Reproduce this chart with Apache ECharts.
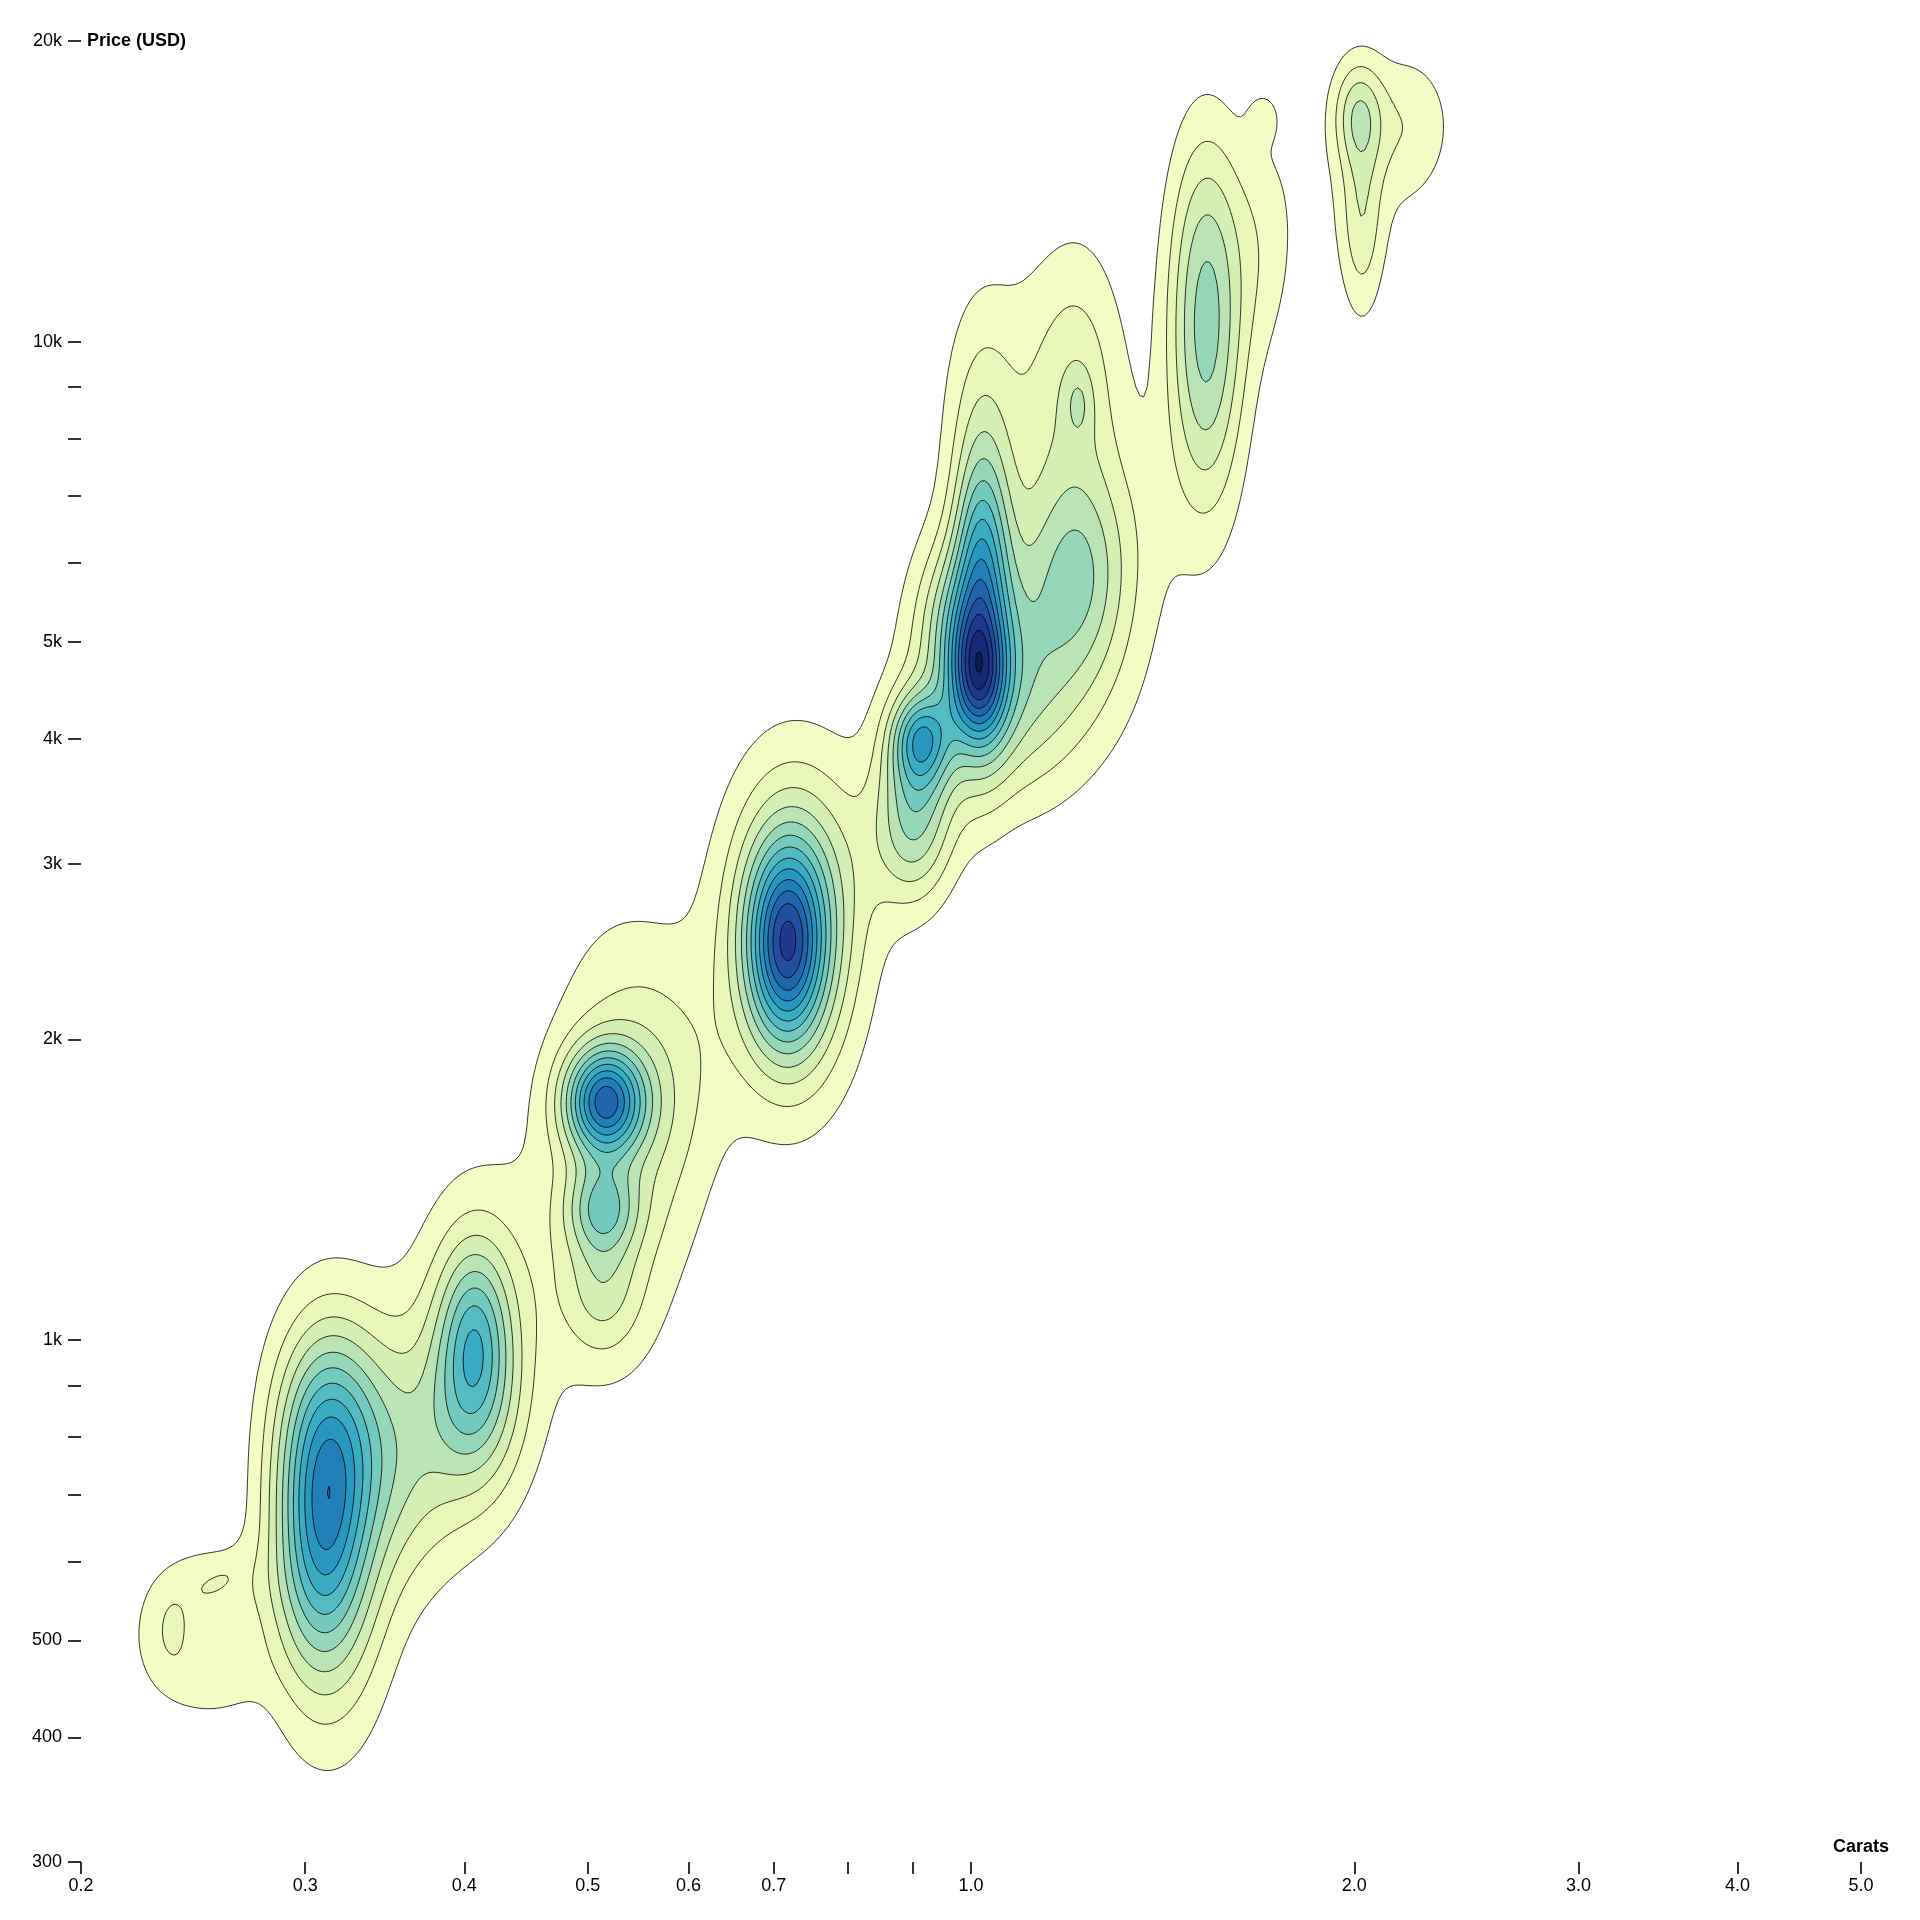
<!DOCTYPE html>
<html>
<head>
<meta charset="utf-8">
<script src="https://cdn.jsdelivr.net/npm/echarts@6/dist/echarts.min.js"></script>
<style>
    html, body { margin: 0; padding: 0; background: #fff; }
    #chart { width: 1920px; height: 1920px; }
</style>
</head>
<body>
<div id="chart"></div>
<script>
// axis ticks and labels
var xTicks = [0.2, 0.3, 0.4, 0.5, 0.6, 0.7, 0.8, 0.9, 1, 2, 3, 4, 5];
var xLabels = [0.2, 0.3, 0.4, 0.5, 0.6, 0.7, 1, 2, 3, 4, 5];
var yTicks = [300, 400, 500, 600, 700, 800, 900, 1000, 2000, 3000, 4000, 5000, 6000, 7000, 8000, 9000, 10000, 20000];
var yLabels = [300, 400, 500, 1000, 2000, 3000, 4000, 5000, 10000, 20000];

// density bumps (carat, price, spread in decades, tilt, height in contour steps)
var bumpCarat  = [0.2335, 0.2535, 0.2524, 0.2362, 0.2558, 0.3095, 0.3095, 0.3136, 0.3150, 0.3519, 0.4074, 0.4065, 0.4111, 0.5152, 0.5129, 0.5302, 0.5731, 0.7167, 0.7231, 0.7815, 1.0128, 1.0196, 1.0309, 1.0196, 1.0196, 1.1140, 1.2171, 1.2171, 1.2144, 1.1390, 0.9127, 0.9027, 0.9127, 1.3449, 1.5296, 1.5296, 1.6976, 1.6976, 2.0134, 2.0268, 2.2145, 2.0494, 0.9754, 0.5129, 0.2638, 1.5296];
var bumpPrice  = [503.5, 571.7, 449.7, 513.6, 571.7, 696.8, 571.7, 849.5, 640.4, 758.9, 1021, 849.5, 992.5, 1733, 1355, 1583, 1824, 2489, 2560, 3034, 4600, 5654, 4384, 6331, 8643, 8643, 5899, 9146, 8667, 5194, 3969, 3303, 4025, 6699, 11148, 9276, 12483, 16799, 16941, 13210, 16562, 14790, 5268, 1127.5, 489.5, 13587];
var bumpSpreadC = [0.0212, 0.0289, 0.0241, 0.0058, 0.0096, 0.0241, 0.0269, 0.0289, 0.0385, 0.0385, 0.0192, 0.0241, 0.0385, 0.0212, 0.0192, 0.0433, 0.0337, 0.0212, 0.0385, 0.0385, 0.0154, 0.0154, 0.0433, 0.0135, 0.0192, 0.0481, 0.0241, 0.0241, 0.0077, 0.0529, 0.0173, 0.0212, 0.0135, 0.0241, 0.0212, 0.0212, 0.0192, 0.0087, 0.0135, 0.0115, 0.0241, 0.0385, 0.0212, 0.0212, 0.0241, 0.0192];
var bumpSpreadP = [0.0430, 0.0307, 0.0270, 0.0172, 0.0086, 0.0860, 0.0860, 0.0737, 0.1597, 0.0860, 0.0614, 0.0614, 0.1167, 0.0369, 0.0307, 0.1474, 0.0860, 0.0676, 0.1167, 0.0737, 0.0442, 0.1106, 0.0737, 0.0553, 0.0860, 0.1106, 0.0676, 0.0983, 0.0246, 0.0983, 0.0369, 0.0553, 0.0246, 0.0737, 0.1167, 0.1167, 0.0860, 0.0172, 0.0369, 0.0676, 0.0491, 0.0860, 0.0553, 0.0491, 0.0369, 0.0737];
var bumpTilt   = [0, 0, 0, 0, 0.6, 0, 0, 0, 0, 0, 0, 0, 0, 0, 0, 0, 0, 0, 0, 0, 0, 0, 0, 0, 0, 0, 0, 0, 0, 0, 0, 0, 0, 0, 0, 0, 0, 0, 0, 0, 0, 0, 0, 0, 0, 0];
var bumpHeight = [1.6, 1.3, 1.0, 0.6, 0.6, 4.4, 3.5, 3.0, 2.0, 3.0, 4.2, 2.5, 2.5, 9.0, 3.8, 2.5, 1.2, 8.7, 4.5, 0.8, 5.4, 5.0, 3.0, 1.5, 0.7, 1.4, 2.6, 1.7, 1.3, 2.9, 5.0, 4.5, 1.5, 0.6, 2.8, 2.8, 1.3, 0.95, 2.85, 2.2, 1.4, 0.8, 3.0, 2.2, 0.6, 0.6];

// contour thresholds
var levels = [1, 2, 3, 4, 5, 6, 7, 8, 9, 10, 11, 12, 13, 14, 15];

var FONT = '"Liberation Sans", Arial, Helvetica, sans-serif';
var ylgnbu = ['#ffffd9', '#edf8b1', '#c7e9b4', '#7fcdbb', '#41b6c4', '#1d91c0', '#225ea8', '#253494', '#081d58'];

function basis(t1, v0, v1, v2, v3) {
    var t2 = t1 * t1, t3 = t2 * t1;
    return ((1 - 3 * t1 + 3 * t2 - t3) * v0
        + (4 - 6 * t2 + 3 * t3) * v1
        + (1 + 3 * t1 + 3 * t2 - 3 * t3) * v2
        + t3 * v3) / 6;
}
function rampColor(t) {
    var n = ylgnbu.length - 1;
    var rgb = ylgnbu.map(function (h) {
        return [parseInt(h.substr(1, 2), 16), parseInt(h.substr(3, 2), 16), parseInt(h.substr(5, 2), 16)];
    });
    t = Math.max(0, Math.min(1, t));
    var i = t >= 1 ? n - 1 : Math.floor(t * n);
    var out = [];
    for (var c = 0; c < 3; c++) {
        var v1 = rgb[i][c], v2 = rgb[i + 1][c];
        var v0 = i > 0 ? rgb[i - 1][c] : 2 * v1 - v2;
        var v3 = i < n - 1 ? rgb[i + 2][c] : 2 * v2 - v1;
        out.push(Math.round(Math.max(0, Math.min(255, basis((t - i / n) * n, v0, v1, v2, v3)))));
    }
    return 'rgb(' + out.join(',') + ')';
}

// density grid in log space
var U0 = Math.log10(0.2), U1 = Math.log10(5);
var V0 = Math.log10(300), V1 = Math.log10(20000);
var NX = 460, NY = 460;
var DU = (U1 - U0) / (NX - 1), DV = (V1 - V0) / (NY - 1);
var dens = new Float64Array(NX * NY);

for (var b = 0; b < bumpCarat.length; b++) {
    var cu = Math.log10(bumpCarat[b]), cv = Math.log10(bumpPrice[b]);
    var su = bumpSpreadC[b], sv = bumpSpreadP[b], r = bumpTilt[b], h = bumpHeight[b];
    var i0 = Math.max(0, Math.floor((cu - 5 * su - U0) / DU)), i1 = Math.min(NX - 1, Math.ceil((cu + 5 * su - U0) / DU));
    var j0 = Math.max(0, Math.floor((cv - 5 * sv - V0) / DV)), j1 = Math.min(NY - 1, Math.ceil((cv + 5 * sv - V0) / DV));
    for (var j = j0; j <= j1; j++) {
        var bb = (V0 + j * DV - cv) / sv;
        for (var i = i0; i <= i1; i++) {
            var a = (U0 + i * DU - cu) / su;
            var q = (a * a - 2 * r * a * bb + bb * bb) / (1 - r * r);
            dens[j * NX + i] += h * Math.exp(-0.5 * q);
        }
    }
}
for (var i = 0; i < NX; i++) { dens[i] = 0; dens[(NY - 1) * NX + i] = 0; }
for (var j = 0; j < NY; j++) { dens[j * NX] = 0; dens[j * NX + NX - 1] = 0; }

// marching squares, rings keep the high side on the left so holes wind the other way
function contourRings(t) {
    var next = new Int32Array(NX * NY * 2).fill(-1);
    var f = function (i, j) { return dens[j * NX + i]; };
    for (var j = 0; j < NY - 1; j++) {
        for (var i = 0; i < NX - 1; i++) {
            var vals = [f(i, j), f(i + 1, j), f(i + 1, j + 1), f(i, j + 1)];
            var ins = vals.map(function (v) { return v >= t; });
            var edges = [(j * NX + i) * 2, (j * NX + i + 1) * 2 + 1, ((j + 1) * NX + i) * 2, (j * NX + i) * 2 + 1];
            var exits = [], entries = [];
            for (var k = 0; k < 4; k++) {
                var ia = ins[k], ib = ins[(k + 1) % 4];
                if (ia && !ib) exits.push(k);
                else if (!ia && ib) entries.push(k);
            }
            if (exits.length === 1) {
                next[edges[exits[0]]] = edges[entries[0]];
            } else if (exits.length === 2) {
                var centerIn = (vals[0] + vals[1] + vals[2] + vals[3]) / 4 >= t;
                exits.forEach(function (k) {
                    next[edges[k]] = edges[centerIn ? (k + 1) % 4 : (k + 3) % 4];
                });
            }
        }
    }
    var point = function (id) {
        var cell = id >> 1, i = cell % NX, j = (cell - i) / NX, fa = f(i, j), fr;
        if ((id & 1) === 0) {
            fr = (t - fa) / (f(i + 1, j) - fa);
            return [U0 + (i + fr) * DU, V0 + j * DV];
        }
        fr = (t - fa) / (f(i, j + 1) - fa);
        return [U0 + i * DU, V0 + (j + fr) * DV];
    };
    var seen = new Uint8Array(next.length);
    var rings = [];
    for (var s = 0; s < next.length; s++) {
        if (next[s] < 0 || seen[s]) continue;
        var ring = [], cur = s, guard = 0;
        while (cur >= 0 && !seen[cur] && guard++ < 1e6) {
            seen[cur] = 1;
            ring.push(point(cur));
            cur = next[cur];
        }
        if (ring.length > 2) rings.push(ring);
    }
    return rings;
}

var levelRings = levels.map(contourRings);
var levelColors = levels.map(function (k) { return rampColor(k / 15); });

var chart = echarts.init(document.getElementById('chart'));

function renderLevel(params, api) {
    var k = params.dataIndex;
    var rings = levelRings[k];
    if (!rings.length) return null;
    var d = '';
    rings.forEach(function (ring) {
        ring.forEach(function (pt, n) {
            var c = api.coord(pt);
            d += (n ? 'L' : 'M') + c[0].toFixed(2) + ' ' + c[1].toFixed(2);
        });
        d += 'Z';
    });
    return {
        type: 'path',
        z2: k,
        shape: { pathData: d },
        style: { fill: levelColors[k], stroke: '#000', lineWidth: 0.8 }
    };
}

var option = {
    backgroundColor: '#fff',
    animation: false,
    grid: { left: 81, top: 41, width: 1780, height: 1821 },
    xAxis: {
        type: 'value',
        min: U0,
        max: U1,
        axisLine: { show: false, onZero: false },
        splitLine: { show: false },
        axisTick: {
            show: true,
            length: 12,
            customValues: xTicks.map(function (v) { return Math.log10(v); }),
            lineStyle: { color: '#000', width: 1.6 }
        },
        axisLabel: {
            customValues: xLabels.map(function (v) { return Math.log10(v); }),
            formatter: function (v) { return Math.pow(10, v).toFixed(1); },
            margin: 15,
            fontSize: 18,
            fontFamily: FONT,
            color: '#000'
        }
    },
    yAxis: {
        type: 'value',
        min: V0,
        max: V1,
        axisLine: { show: false, onZero: false },
        splitLine: { show: false },
        axisTick: {
            show: true,
            length: 13,
            customValues: yTicks.map(function (v) { return Math.log10(v); }),
            lineStyle: { color: '#000', width: 1.6 }
        },
        axisLabel: {
            customValues: yLabels.map(function (v) { return Math.log10(v); }),
            formatter: function (v) {
                var p = Math.round(Math.pow(10, v));
                return p >= 1000 ? (p / 1000) + 'k' : String(p);
            },
            margin: 19,
            fontSize: 18,
            fontFamily: FONT,
            color: '#000'
        }
    },
    graphic: [
        {
            type: 'text', x: 87, y: 41,
            style: { text: 'Price (USD)', font: 'bold 18px ' + FONT, fill: '#000', align: 'left', verticalAlign: 'middle' }
        },
        {
            type: 'text', x: 1861, y: 1847,
            style: { text: 'Carats', font: 'bold 18px ' + FONT, fill: '#000', align: 'center', verticalAlign: 'middle' }
        }
    ],
    series: [{
        type: 'custom',
        coordinateSystem: 'cartesian2d',
        clip: true,
        silent: true,
        encode: { x: 0, y: 1 },
        data: levels.map(function (k) { return [U0, V0, k]; }),
        renderItem: renderLevel
    }]
};
chart.setOption(option);
</script>
</body>
</html>
